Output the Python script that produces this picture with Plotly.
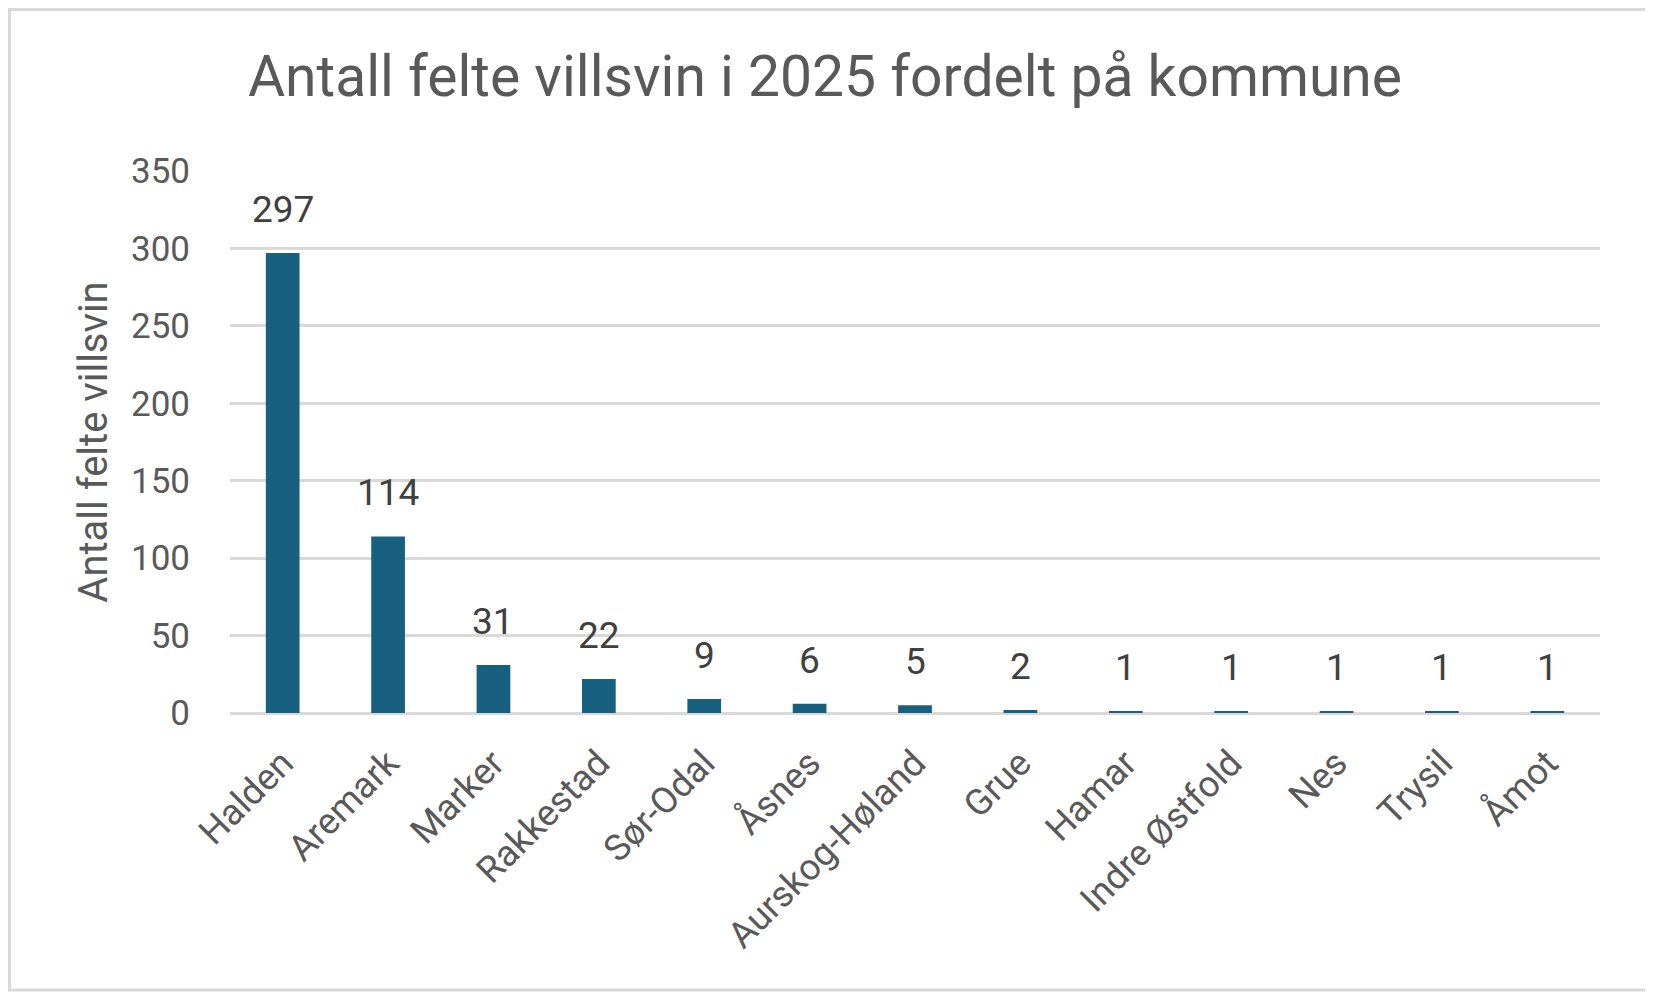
import plotly.graph_objects as go

# data
kommuner = ["Halden", "Aremark", "Marker", "Rakkestad", "Sør-Odal", "Åsnes",
            "Aurskog-Høland", "Grue", "Hamar", "Indre Østfold", "Nes", "Trysil", "Åmot"]
felte = [297, 114, 31, 22, 9, 6, 5, 2, 1, 1, 1, 1, 1]
y_ticks = [0, 50, 100, 150, 200, 250, 300, 350]

font_family = "Roboto, Liberation Sans, sans-serif"
grey_text = "#595959"
grid_grey = "#d9d9d9"

W, H = 1653, 993
L, R, T, B = 222, 61, 163, 288
PW, PH = W - L - R, H - T - B

fig = go.Figure()
fig.add_trace(go.Bar(
    x=kommuner,
    y=felte,
    marker=dict(color="#17607f", line=dict(width=0)),
))

# value labels above the bars
for k, v in zip(kommuner, felte):
    fig.add_annotation(x=k, y=v, text=str(v), showarrow=False,
                       yanchor="bottom", yshift=20,
                       font=dict(family=font_family, size=37, color="#404040"))

fig.update_layout(
    width=W,
    height=H,
    paper_bgcolor="white",
    plot_bgcolor="white",
    margin=dict(l=L, r=R, t=T, b=B),
    bargap=0.68,
    showlegend=False,
    title=dict(
        text="Antall felte villsvin i 2025 fordelt på kommune",
        x=817 / W, xanchor="center",
        y=1 - 68 / H, yanchor="middle",
        font=dict(family=font_family, size=57, color=grey_text),
    ),
    font=dict(family=font_family, color=grey_text),
)

fig.update_yaxes(
    range=[0, 350],
    tickvals=y_ticks,
    showgrid=True, gridcolor=grid_grey, gridwidth=2.5,
    zeroline=True, zerolinecolor=grid_grey, zerolinewidth=2.5,
    showline=False,
    ticks="outside", ticklen=32, tickcolor="rgba(0,0,0,0)",
    tickfont=dict(family=font_family, size=35, color=grey_text),
    title=dict(text="Antall felte villsvin", standoff=10,
               font=dict(family=font_family, size=40, color=grey_text)),
)

fig.update_xaxes(
    tickangle=-45,
    showgrid=False, showline=False,
    ticks="outside", ticklen=13, tickcolor="rgba(0,0,0,0)",
    tickfont=dict(family=font_family, size=36.5, color=grey_text),
)

# light grey frame round the whole chart
fig.add_shape(type="rect", xref="paper", yref="paper",
              x0=(1.5 - L) / PW, x1=(1642 - L) / PW,
              y0=-(982 - (H - B)) / PH, y1=1 + (T - 1.5) / PH,
              line=dict(color=grid_grey, width=3), fillcolor="rgba(0,0,0,0)", layer="below")

fig.write_html("out.html")
